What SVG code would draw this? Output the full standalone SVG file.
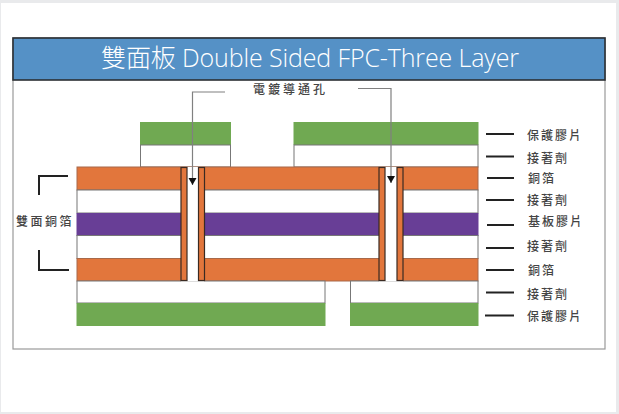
<svg xmlns="http://www.w3.org/2000/svg" width="619" height="414" viewBox="0 0 619 414">
<style>
.lay{stroke-width:1}
.g{fill:#70a952;stroke:#70a952}
.w{fill:#fff;stroke:#777}
.o{fill:#e2763c;stroke:#a8694a}
.p{fill:#683e96;stroke:#683e96}
.via{fill:#e2763c;stroke:#3a2a22;stroke-width:1.2}
.lead{fill:none;stroke:#808080;stroke-width:1.2}
.tick{fill:none;stroke:#222;stroke-width:2}
.lbl{font-family:"Noto Sans CJK TC","Noto Sans",sans-serif;font-size:12px;letter-spacing:2px;fill:#444;font-weight:500}
</style>
<defs><marker id="arr" markerUnits="userSpaceOnUse" markerWidth="8" markerHeight="9" refX="7" refY="4" orient="auto"><path d="M0,0L7,4L0,8Z" fill="#111"/></marker></defs>
<rect width="619" height="414" fill="#e9eaec"/>
<rect x="1" y="3" width="615" height="409" fill="#fff"/>
<g id="frame">
<rect x="13" y="38" width="592" height="311" fill="#fff" stroke="#9a9a9a" stroke-width="1.2"/>
<rect x="13" y="38" width="592" height="42" fill="#5591c6" stroke="#2b2f33" stroke-width="1.6"/>
<text x="310" y="67" text-anchor="middle" font-family="'Open Sans','Noto Sans CJK TC',sans-serif" font-weight="300" font-size="25" fill="#fff" textLength="418" lengthAdjust="spacing">雙面板 Double Sided FPC-Three Layer</text>
</g>
<g id="layers">
<rect class="g" x="140.500" y="122.500" width="90" height="22"/>
<rect class="g" x="294" y="122.500" width="184" height="22"/>
<rect class="w" x="140.500" y="145" width="90" height="22"/>
<rect class="w" x="294" y="145" width="184" height="22"/>
<rect class="o" x="77" y="167" width="401" height="23"/>
<rect class="w" x="77" y="190" width="401" height="23"/>
<rect class="p" x="77" y="213.500" width="401" height="22"/>
<rect class="w" x="77" y="235.500" width="401" height="23"/>
<rect class="o" x="77" y="258.500" width="401" height="22.500"/>
<rect class="w" x="77" y="281" width="248" height="22"/>
<rect class="w" x="350.500" y="281" width="127.500" height="22"/>
<rect class="g" x="77" y="303.500" width="248" height="22"/>
<rect class="g" x="350.500" y="303.500" width="127.500" height="22"/>
</g>
<g id="via-left">
<rect x="181" y="167" width="23" height="114.500" fill="#fff"/>
<rect class="via" x="181" y="167.500" width="6" height="113"/>
<rect class="via" x="198.500" y="167.500" width="6" height="113"/>
</g>
<g id="via-right">
<rect x="379" y="167" width="24" height="114.500" fill="#fff"/>
<rect class="via" x="379" y="167.500" width="6" height="113"/>
<rect class="via" x="397" y="167.500" width="6" height="113"/>
</g>
<g id="connectors">
<path class="lead" d="M225,92H192.500V185" marker-end="url(#arr)"/>
<path class="lead" d="M358,88.500H391V183" marker-end="url(#arr)"/>
<path class="tick" d="M68,176H39V195"/>
<path class="tick" d="M39,250V270H69"/>
<path class="tick" d="M486,134H514M486,156.500H514M487,178H514M486,200H514M487,225H514M486,248H514M486,270H514M486,292.500H514M485,315.500H514"/>
</g>
<g id="labels">
<text class="lbl" x="253" y="94" style="letter-spacing:3px">電鍍導通孔</text>
<text class="lbl" x="16" y="226" style="letter-spacing:2.500px">雙面銅箔</text>
<text class="lbl" x="527" y="140">保護膠片</text>
<text class="lbl" x="527" y="163">接著劑</text>
<text class="lbl" x="528" y="183">銅箔</text>
<text class="lbl" x="527" y="205">接著劑</text>
<text class="lbl" x="528" y="226">基板膠片</text>
<text class="lbl" x="527" y="251">接著劑</text>
<text class="lbl" x="528" y="275">銅箔</text>
<text class="lbl" x="527" y="299">接著劑</text>
<text class="lbl" x="527" y="321">保護膠片</text>
</g>
</svg>
